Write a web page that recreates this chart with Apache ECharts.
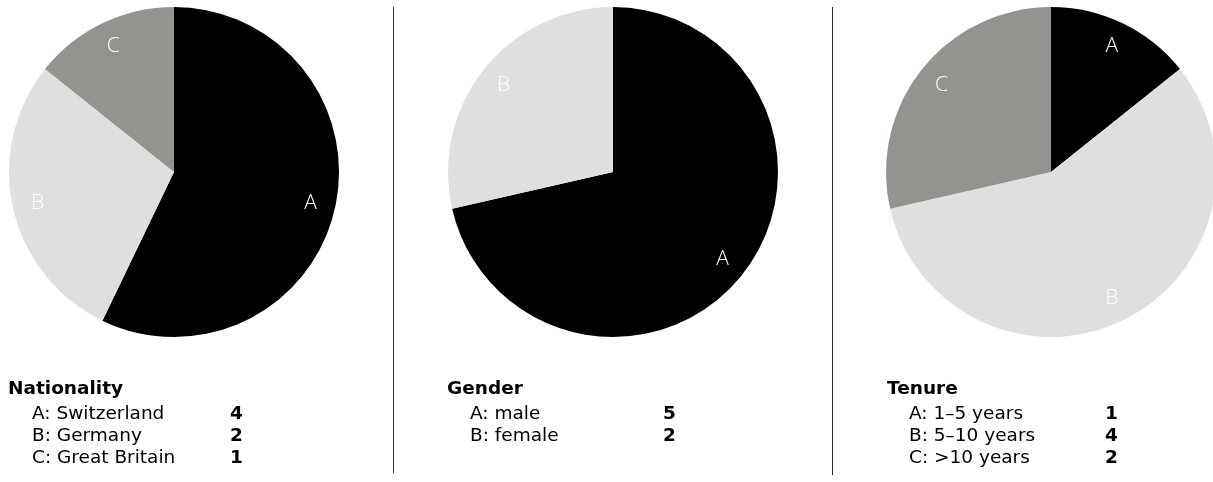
<!DOCTYPE html>
<html>
<head>
<meta charset="utf-8">
<script src="https://cdn.jsdelivr.net/npm/echarts@6/dist/echarts.min.js"></script>
<style>html,body{margin:0;padding:0;background:#fff}#c{width:1213px;height:482px}</style>
</head>
<body>
<div id="c"></div>
<script>
// ---- data ----
const titles = ['Nationality', 'Gender', 'Tenure'];
const nationalityCats = ['A', 'B', 'C'];
const nationalityNames = ['Switzerland', 'Germany', 'Great Britain'];
const nationalityValues = [4, 2, 1];
const genderCats = ['A', 'B'];
const genderNames = ['male', 'female'];
const genderValues = [5, 2];
const tenureCats = ['A', 'B', 'C'];
const tenureNames = ['1\u20135 years', '5\u201310 years', '>10 years'];
const tenureValues = [1, 4, 2];

const groups = [
  {cats: nationalityCats, names: nationalityNames, values: nationalityValues},
  {cats: genderCats, names: genderNames, values: genderValues},
  {cats: tenureCats, names: tenureNames, values: tenureValues}
];

// ---- styles / layout ----
const colors = ['#000000', '#dfdfde', '#94938f'];
const FONT = '"DejaVu Sans", sans-serif';
const LABEL_FONT = '"Open Sans", "Noto Sans", sans-serif';
const centers = [[174, 172], [613, 172], [1051, 172]];
const R = 165;
const titleX = [8, 447, 887];
const itemX = [32, 470, 909];
const valueX = [230, 663, 1105];
const titleY = 389;
const rowY = [414, 436, 458];

const series = [];
groups.forEach((g, i) => {
  const data = g.cats.map((c, k) => ({name: c, value: g.values[k], itemStyle: {color: colors[k]}}));
  series.push({
    type: 'pie', center: centers[i], radius: [0, R], startAngle: 90, clockwise: true,
    silent: true, animation: false, label: {show: false}, labelLine: {show: false},
    itemStyle: {borderWidth: 0},
    data: data
  });
  series.push({
    type: 'pie', center: centers[i], radius: [109, R], startAngle: 90, clockwise: true,
    silent: true, animation: false,
    itemStyle: {color: 'transparent', borderWidth: 0},
    label: {show: true, position: 'inside', formatter: '{b}', color: '#ffffff',
            fontFamily: LABEL_FONT, fontSize: 21, fontWeight: 300},
    labelLine: {show: false},
    data: g.cats.map((c, k) => ({name: c, value: g.values[k]}))
  });
});

const graphics = [];
// separators
[393.5, 832.5].forEach((x, i) => {
  graphics.push({type: 'line', shape: {x1: x, y1: 7, x2: x, y2: i === 0 ? 473 : 475},
    style: {stroke: '#2b2b2b', lineWidth: 1}, silent: true});
});
groups.forEach((g, i) => {
  graphics.push({type: 'text', x: titleX[i], y: titleY,
    style: {text: titles[i], font: 'bold 18.5px ' + FONT, fill: '#000', verticalAlign: 'middle', align: 'left'}});
  g.cats.forEach((c, k) => {
    graphics.push({type: 'text', x: itemX[i], y: rowY[k],
      style: {text: c + ': ' + g.names[k], font: '18.5px ' + FONT, fill: '#000', verticalAlign: 'middle', align: 'left'}});
    graphics.push({type: 'text', x: valueX[i], y: rowY[k],
      style: {text: String(g.values[k]), font: 'bold 18.5px ' + FONT, fill: '#000', verticalAlign: 'middle', align: 'left'}});
  });
});

const chart = echarts.init(document.getElementById('c'), null, {renderer: 'canvas'});
chart.setOption({
  animation: false,
  series: series,
  graphic: graphics
});
</script>
</body>
</html>
